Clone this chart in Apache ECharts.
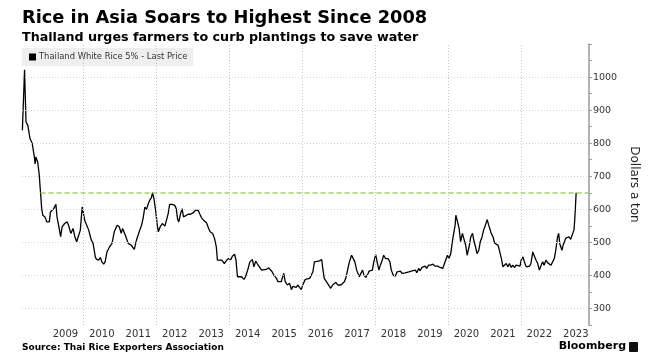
<!DOCTYPE html>
<html><head><meta charset="utf-8">
<script src="https://cdn.jsdelivr.net/npm/echarts@6/dist/echarts.min.js"></script>
<style>html,body{margin:0;padding:0;background:#fff}#c{width:648px;height:364px}</style>
</head><body><div id="c"></div>
<script>
const dates = [2008.32,2008.38,2008.42,2008.47,2008.53,2008.57,2008.59,2008.65,2008.67,2008.69,2008.74,2008.78,2008.82,2008.85,2008.88,2008.94,2008.99,
2009.03,2009.06,2009.09,2009.14,2009.18,2009.24,2009.27,2009.33,2009.37,2009.41,2009.48,2009.55,2009.60,2009.65,2009.71,2009.76,2009.81,2009.84,2009.91,2009.96,
2010.00,2010.03,2010.07,2010.14,2010.21,2010.26,2010.32,2010.35,2010.41,2010.46,2010.50,2010.55,2010.59,2010.64,2010.71,2010.78,2010.84,2010.92,2010.98,
2011.03,2011.07,2011.12,2011.16,2011.22,2011.30,2011.34,2011.39,2011.45,2011.50,2011.54,2011.59,2011.63,2011.68,2011.72,2011.77,2011.81,2011.86,2011.89,2011.93,2011.98,
2012.02,2012.05,2012.10,2012.16,2012.23,2012.28,2012.32,2012.36,2012.43,2012.50,2012.54,2012.58,2012.61,2012.66,2012.70,2012.74,2012.79,2012.87,2012.93,
2013.00,2013.07,2013.14,2013.18,2013.23,2013.29,2013.37,2013.43,2013.47,2013.54,2013.59,2013.64,2013.67,2013.72,2013.79,2013.86,2013.91,2013.97,
2014.04,2014.08,2014.14,2014.18,2014.22,2014.27,2014.33,2014.40,2014.44,2014.50,2014.56,2014.63,2014.67,2014.72,2014.76,2014.82,2014.88,2014.93,
2015.01,2015.08,2015.12,2015.17,2015.22,2015.29,2015.33,2015.38,2015.42,2015.49,2015.53,2015.59,2015.65,2015.70,2015.74,2015.79,2015.83,2015.88,2015.92,2015.97,
2016.01,2016.08,2016.13,2016.20,2016.24,2016.29,2016.33,2016.38,2016.47,2016.53,2016.56,2016.60,2016.65,2016.69,2016.74,2016.78,2016.83,2016.88,2016.92,2016.97,
2017.01,2017.06,2017.10,2017.15,2017.19,2017.24,2017.29,2017.35,2017.40,2017.44,2017.49,2017.56,2017.60,2017.65,2017.69,2017.74,2017.80,2017.83,2017.87,2017.92,2017.96,
2018.01,2018.05,2018.10,2018.14,2018.19,2018.23,2018.28,2018.35,2018.40,2018.44,2018.49,2018.55,2018.60,2018.64,2018.69,2018.73,2018.78,2018.82,2018.87,2018.92,2018.96,
2019.01,2019.05,2019.10,2019.14,2019.19,2019.23,2019.28,2019.32,2019.37,2019.41,2019.46,2019.52,2019.58,2019.64,2019.71,2019.78,2019.85,2019.90,2019.93,2019.98,
2020.02,2020.07,2020.12,2020.16,2020.19,2020.21,2020.25,2020.28,2020.30,2020.34,2020.39,2020.43,2020.48,2020.52,2020.58,2020.62,2020.67,2020.70,2020.75,2020.79,2020.84,2020.88,2020.93,2020.97,
2021.02,2021.07,2021.11,2021.14,2021.18,2021.23,2021.27,2021.32,2021.37,2021.41,2021.46,2021.50,2021.55,2021.59,2021.64,2021.68,2021.73,2021.77,2021.82,2021.86,2021.91,2021.97,
2022.00,2022.05,2022.09,2022.14,2022.18,2022.23,2022.27,2022.32,2022.36,2022.41,2022.45,2022.50,2022.54,2022.59,2022.63,2022.68,2022.73,2022.77,2022.82,2022.86,2022.91,2022.95,
2023.00,2023.03,2023.06,2023.12,2023.15,2023.19,2023.22,2023.27,2023.31,2023.36,2023.40,2023.45,2023.47,2023.49,2023.51];

const prices = [839,1022,864,854,814,817,799,758,737,758,743,708,648,602,582,577,562,
567,562,592,597,602,615,577,542,517,547,557,562,547,527,542,517,502,497,537,607,
585,567,562,537,507,497,456,449,446,454,441,434,441,471,486,497,532,552,547,
527,542,537,517,497,492,490,479,507,502,537,552,572,607,599,615,627,635,650,632,592,
552,532,547,557,549,547,587,615,615,612,602,569,562,587,602,577,582,585,585,
589,597,597,587,575,567,559,542,532,527,512,486,446,451,446,436,444,451,
448,458,464,446,396,394,396,388,396,416,441,448,426,443,436,426,416,421,
418,423,426,411,401,391,381,386,381,406,381,371,376,357,367,371,364,371,364,357,
371,388,384,391,396,411,441,444,444,448,421,391,386,376,381,361,371,369,379,371,
374,371,376,381,391,416,441,461,466,441,416,396,396,416,401,394,405,413,410,416,441,
463,441,416,431,446,461,451,451,441,416,401,398,411,406,413,406,403,408,406,411,406,
414,411,416,408,421,414,424,418,428,421,431,431,434,428,428,424,421,426,446,461,
451,466,507,512,552,582,565,567,542,502,527,529,491,461,491,517,527,507,486,466,476,502,517,537,
552,569,552,542,527,517,498,502,491,486,451,426,431,436,426,436,424,431,424,431,428,428,
446,456,441,426,424,428,436,471,466,446,438,416,428,441,431,446,438,441,431,431,451,476,
517,527,496,476,491,502,512,509,517,509,522,537,567,607,650];

const yearLabels = [2009,2010,2011,2012,2013,2014,2015,2016,2017,2018,2019,2020,2021,2022,2023];
const gridYears = [2010,2012,2014,2016,2018,2020,2022];
const yTicks = [300,400,500,600,700,800,900,1000];
const highSince2008 = 650;
const highLineStart = 2008.82;

const xMin = 2008.31, xMax = 2023.86;
const FONT = 'DejaVu Sans';

const chart = echarts.init(document.getElementById('c'), null, {renderer:'canvas'});
const lineData = dates.map((d,i)=>[d, prices[i]]);

chart.setOption({
  animation:false,
  backgroundColor:'#fff',
  grid:{left:22, right:56, top:44, bottom:39},
  legend:{
    left:22, top:48, icon:'rect', itemWidth:7, itemHeight:7,
    backgroundColor:'#efefef', padding:[5,6,5,7], borderRadius:0,
    textStyle:{fontFamily:FONT, fontSize:8.4, color:'#333', padding:[0,0,0,-2]},
    data:['Thailand White Rice 5% - Last Price']
  },
  xAxis:{
    type:'value', min:xMin, max:xMax,
    axisLine:{show:false}, axisTick:{show:false}, splitLine:{show:false},
    axisLabel:{
      customValues: yearLabels.map(y=>y+0.5),
      formatter: v => String(Math.floor(v)),
      fontFamily:FONT, fontSize:10, color:'#333', margin:4
    }
  },
  yAxis:{
    type:'value', position:'right', min:250, max:1100, interval:50,
    axisLine:{show:true, lineStyle:{color:'#9a9a9a', width:1.5}},
    axisTick:{show:true, length:3, lineStyle:{color:'#9a9a9a', width:1}},
    splitLine:{show:false},
    axisLabel:{
      formatter: v => yTicks.indexOf(v) >= 0 ? String(v) : '',
      fontFamily:FONT, fontSize:9.5, color:'#333', margin:4
    },
    name:'Dollars a ton', nameLocation:'middle', nameRotate:-90, nameGap:28,
    nameTextStyle:{fontFamily:FONT, fontSize:12, color:'#222'}
  },
  series:[
    {
      type:'line', name:'grid', data:lineData, silent:true, showSymbol:false,
      lineStyle:{opacity:0}, z:1, legendHoverLink:false,
      markLine:{
        silent:true, symbol:['none','none'], label:{show:false}, animation:false,
        data:[
          ...yTicks.map(v=>({yAxis:v, lineStyle:{type:[1,2], color:'#d6d6d6', width:1}})),
          ...gridYears.map(y=>({xAxis:y, lineStyle:{type:[1,2], color:'#c4c4c4', width:1}}))
        ]
      }
    },
    {
      type:'line', name:'Thailand White Rice 5% - Last Price', data:lineData,
      showSymbol:false, symbol:'none', z:3, color:'#000',
      lineStyle:{color:'#000', width:1.3},
      markLine:{
        silent:true, symbol:['none','none'], label:{show:false}, animation:false,
        lineStyle:{type:[5,3], color:'#9fd65a', width:1.6},
        data:[[{coord:[highLineStart, highSince2008]},{coord:[xMax, highSince2008]}]]
      }
    }
  ],
  graphic:[
    {type:'text', left:22, top:9, style:{text:'Rice in Asia Soars to Highest Since 2008', font:'bold 17.8px "DejaVu Sans"', fill:'#000'}},
    {type:'text', left:22, top:31, style:{text:'Thailand urges farmers to curb plantings to save water', font:'bold 12.7px "DejaVu Sans"', fill:'#000'}},
    {type:'text', left:22, top:343, style:{text:'Source: Thai Rice Exporters Association', font:'bold 9px "DejaVu Sans"', fill:'#000'}},
    {type:'text', right:22, top:341, style:{text:'Bloomberg', font:'bold 11px "DejaVu Sans"', fill:'#000'}},
    {type:'rect', right:10, top:342, shape:{width:9, height:10, r:1}, style:{fill:'#111'}}
  ]
});
</script></body></html>
